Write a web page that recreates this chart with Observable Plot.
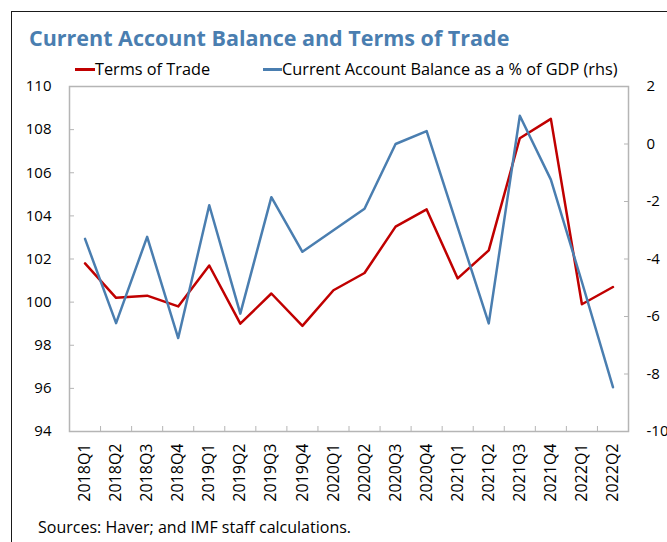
<!DOCTYPE html>
<html>
<head>
<meta charset="utf-8">
<script src="https://cdn.jsdelivr.net/npm/d3@7"></script>
<script src="https://cdn.jsdelivr.net/npm/@observablehq/plot@0.6"></script>
<style>
  html, body { margin: 0; padding: 0; background: #fff; }
  #page { position: relative; width: 667px; height: 542px; overflow: hidden; font-family: "Open Sans", sans-serif; color: #000; }
  #outer { position: absolute; left: 11px; top: 11px; width: 720px; height: 620px; border: 1.5px solid #1a1a1a; box-sizing: border-box; }
  #title { position: absolute; left: 29px; top: 22.5px; font-size: 21.5px; font-weight: 700; color: #4a7eb0; white-space: nowrap; }
  .leg { position: absolute; top: 57.5px; font-size: 16.3px; white-space: nowrap; }
  .sw { position: absolute; height: 2.5px; top: 68px; }
  #caption { position: absolute; left: 38px; top: 516px; font-size: 16px; white-space: nowrap; }
  #chart { position: absolute; left: 0; top: 0; }
</style>
</head>
<body>
<div id="page">
  <div id="outer"></div>
  <div id="chart"></div>
  <div id="title">Current Account Balance and Terms of Trade</div>
  <div class="sw" style="left:75px;width:20px;background:#c00000"></div>
  <div class="leg" style="left:95px">Terms of Trade</div>
  <div class="sw" style="left:263px;width:19px;background:#4a7eb0"></div>
  <div class="leg" style="left:282px">Current Account Balance as a % of GDP (rhs)</div>
  <div id="caption">Sources: Haver; and IMF staff calculations.</div>
</div>
<script>
const quarters = ["2018Q1","2018Q2","2018Q3","2018Q4","2019Q1","2019Q2","2019Q3","2019Q4",
  "2020Q1","2020Q2","2020Q3","2020Q4","2021Q1","2021Q2","2021Q3","2021Q4","2022Q1","2022Q2"];
const termsOfTrade = [101.8, 100.2, 100.3, 99.8, 101.7, 99.0, 100.4, 98.9,
  100.55, 101.35, 103.5, 104.3, 101.1, 102.4, 107.6, 108.5, 99.9, 100.7];
const currentAccount = [-3.3, -6.23, -3.23, -6.75, -2.13, -5.9, -1.85, -3.75,
  -3.0, -2.25, 0.0, 0.45, -2.9, -6.24, 0.98, -1.24, -4.8, -8.46];
const leftTicks = [94, 96, 98, 100, 102, 104, 106, 108, 110];
const rightTicks = [-10, -8, -6, -4, -2, 0, 2];

const leftDomain = [94, 110];
const rightDomain = [-10, 2];
const toLeft = v => leftDomain[0] + (v - rightDomain[0]) * (leftDomain[1] - leftDomain[0]) / (rightDomain[1] - rightDomain[0]);
const fromLeft = v => rightDomain[0] + (v - leftDomain[0]) * (rightDomain[1] - rightDomain[0]) / (leftDomain[1] - leftDomain[0]);

const red = "#c00000", blue = "#4a7eb0", gray = "#b5b5b5";
const centers = quarters.map((q, i) => i + 0.5);
const bounds = d3.range(1, quarters.length);

const chart = Plot.plot({
  width: 667,
  height: 542,
  marginTop: 86,
  marginBottom: 111,
  marginLeft: 69,
  marginRight: 39,
  style: { fontFamily: "'Open Sans', sans-serif", fontSize: "15px", color: "#000", background: "transparent" },
  x: { domain: [0, quarters.length], axis: null },
  y: { domain: leftDomain, axis: null },
  marks: [
    Plot.frame({ stroke: gray, strokeWidth: 1.5 }),
    Plot.axisY(leftTicks, { anchor: "left", tickSize: -5, tickPadding: 23, stroke: gray, fill: "#000",
      tickFormat: d => String(d), label: null }),
    Plot.axisY(rightTicks.map(toLeft), { anchor: "right", tickSize: -5, tickPadding: 23, stroke: gray, fill: "#000",
      tickFormat: v => String(Math.round(fromLeft(v))), label: null }),
    Plot.axisX(bounds, { anchor: "bottom", tickSize: -5, stroke: gray, tickFormat: () => "", label: null }),
    Plot.axisX(centers, { anchor: "bottom", tickSize: 0, tickPadding: 12, tickRotate: -90, fill: "#000",
      fontSize: 16, tickFormat: v => quarters[Math.floor(v)], label: null }),
    Plot.line(termsOfTrade, { x: (d, i) => i + 0.5, y: d => d, stroke: red, strokeWidth: 2.5 }),
    Plot.line(currentAccount, { x: (d, i) => i + 0.5, y: d => toLeft(d), stroke: blue, strokeWidth: 2.5 })
  ]
});
document.getElementById("chart").appendChild(chart);
</script>
</body>
</html>
